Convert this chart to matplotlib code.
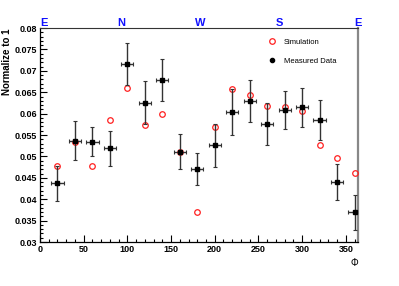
import numpy as np
import matplotlib
matplotlib.use("Agg")
import matplotlib.pyplot as plt
from matplotlib.ticker import MultipleLocator
from matplotlib.lines import Line2D

plt.rcParams['font.family'] = ['Liberation Sans', 'DejaVu Sans']

phi = [20, 40, 60, 80, 100, 120, 140, 160, 180, 200, 220, 240, 260, 280, 300, 320, 340, 360]
measured = [0.0437, 0.0537, 0.0534, 0.0519, 0.0716, 0.0626, 0.0679, 0.0511, 0.0470,
            0.0526, 0.0604, 0.0630, 0.0575, 0.0608, 0.0615, 0.0585, 0.0440, 0.0369]
meas_err = [0.0040, 0.0046, 0.0034, 0.0041, 0.0048, 0.0050, 0.0049, 0.0041, 0.0037,
            0.0050, 0.0053, 0.0049, 0.0049, 0.0045, 0.0046, 0.0046, 0.0042, 0.0042]
phi_err = 7
simulation = [0.0477, 0.0534, 0.0478, 0.0585, 0.0661, 0.0573, 0.0600, 0.0511, 0.0369,
              0.0569, 0.0657, 0.0644, 0.0618, 0.0616, 0.0606, 0.0527, 0.0496, 0.0462]
directions = ["E", "N", "W", "S", "E"]

fig = plt.figure(figsize=(3.99, 2.86), dpi=100)
ax = fig.add_axes([0.1003, 0.1538, 0.797, 0.748])

ax.plot(phi, simulation, 'o', mfc='none', mec='#ff2020', ms=4, mew=0.9, zorder=3)
ax.errorbar(phi, measured, yerr=meas_err, xerr=phi_err, fmt='s', color='black',
            ms=3, ecolor='#333333', elinewidth=1, capsize=1.2, capthick=0.8, zorder=4)

ax.set_xlim(0, 364)
ax.set_ylim(0.03, 0.08)
ax.xaxis.set_major_locator(MultipleLocator(50))
ax.xaxis.set_minor_locator(MultipleLocator(10))
ax.yaxis.set_major_locator(MultipleLocator(0.005))
ax.yaxis.set_minor_locator(MultipleLocator(0.001))
ax.tick_params(which='both', direction='in', top=False, right=False,
               labelsize=6.5, pad=2, width=0.8)
ax.tick_params(which='major', length=5)
ax.tick_params(which='minor', length=2.5)
ax.yaxis.set_major_formatter(matplotlib.ticker.FuncFormatter(
    lambda v, p: ('%.3f' % v).rstrip('0').rstrip('.') if v else '0'))
for lab in ax.get_xticklabels() + ax.get_yticklabels():
    lab.set_fontweight('bold')

ax.spines['right'].set_color('#888888')
ax.spines['right'].set_linewidth(1.6)
ax.spines['top'].set_color('#333333')
for s in ['left', 'bottom']:
    ax.spines[s].set_linewidth(0.9)

ax.set_ylabel("Normalize to 1", fontsize=7, fontweight='bold', loc='top', labelpad=2)
ax.set_xlabel("\u03a6", fontsize=7, loc='right', labelpad=3)

for frac, d in zip([0.012, 0.257, 0.503, 0.752, 1.0], directions):
    ax.text(frac, 1.0, d, transform=ax.transAxes, ha='center', va='bottom',
            color='#1010ff', fontsize=8, fontweight='bold')

handles = [Line2D([], [], ls='none', marker='o', mfc='none', mec='#ff2020', ms=4, mew=0.9),
           Line2D([], [], ls='none', marker='o', color='black', ms=3)]
ax.legend(handles, ["Simulation", "Measured Data"], loc='upper left',
          bbox_to_anchor=(0.69, 0.985), frameon=False, fontsize=5.5,
          labelspacing=1.6, handletextpad=0.8, handlelength=1.5)

fig.savefig("out.png", dpi=100)
